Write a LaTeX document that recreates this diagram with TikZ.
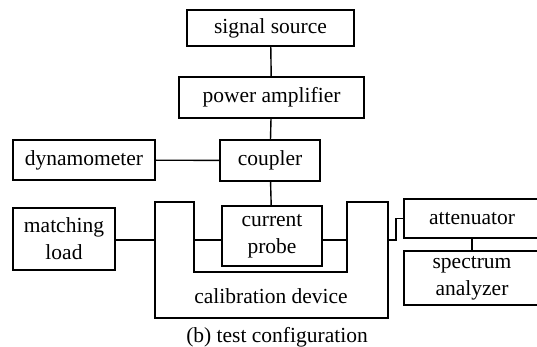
\documentclass[tikz,border=0pt]{standalone}
\usepackage{fontspec}
\setmainfont{Liberation Serif}
\newfontfamily\timesface{Liberation Serif}
\begin{document}
\begin{tikzpicture}[x=1pt,y=-1pt,
  line width=1.4pt,
  every node/.style={font=\timesface\fontsize{21.5}{27}\selectfont, inner sep=0pt},
  blk/.style={draw, rectangle, align=center, minimum width=#1}]
\useasboundingbox (0,0) rectangle (537,346);
\clip (0,0) rectangle (537,346);

% chain of instruments
\node[blk=167, minimum height=36] (src) at (270.5,28) {signal source};
\node[blk=185, minimum height=41] (amp) at (271.5,97.5) {power amplifier};
\node[blk=100, minimum height=41] (cpl) at (270,160.5) {coupler};
\node[blk=142, minimum height=40] (dyn) at (84,160) {dynamometer};
\node[blk=100, minimum height=60] (probe) at (272,236) {current\\probe};
\node[blk=102, minimum height=62] (load) at (64,239) {matching\\load};
\node[blk=136, minimum height=39] (att) at (472,218.5) {attenuator};
\node[blk=136, minimum height=54] (spec) at (472,278) {spectrum\\analyzer};

% calibration device (U-shaped fixture)
\coordinate (cdL) at (155,240);
\coordinate (cdIL) at (194,240);
\coordinate (cdIR) at (347,240);
\coordinate (cdR) at (388,240);
\draw (155,202) -- (194,202) -- (194,272) -- (347,272) -- (347,202)
  -- (388,202) -- (388,318) -- (155,318) -- cycle;
\node (cdtext) at (271,296) {calibration device};

% connections
\draw (src) -- (amp);
\draw (amp) -- (cpl);
\draw (dyn) -- (cpl);
\draw (cpl) -- (probe);
\draw (load.east |- cdL) -- (cdL);
\draw (cdIL) -- (probe.west |- cdIL);
\draw (probe.east |- cdIR) -- (cdIR);
\coordinate (kink) at (396,240);
\draw (cdR) -- (kink) -- (kink |- att.west) -- (att.west);
\draw (att) -- (spec);

\node (cap) at (277,337) {(b) test configuration};
\end{tikzpicture}
\end{document}
